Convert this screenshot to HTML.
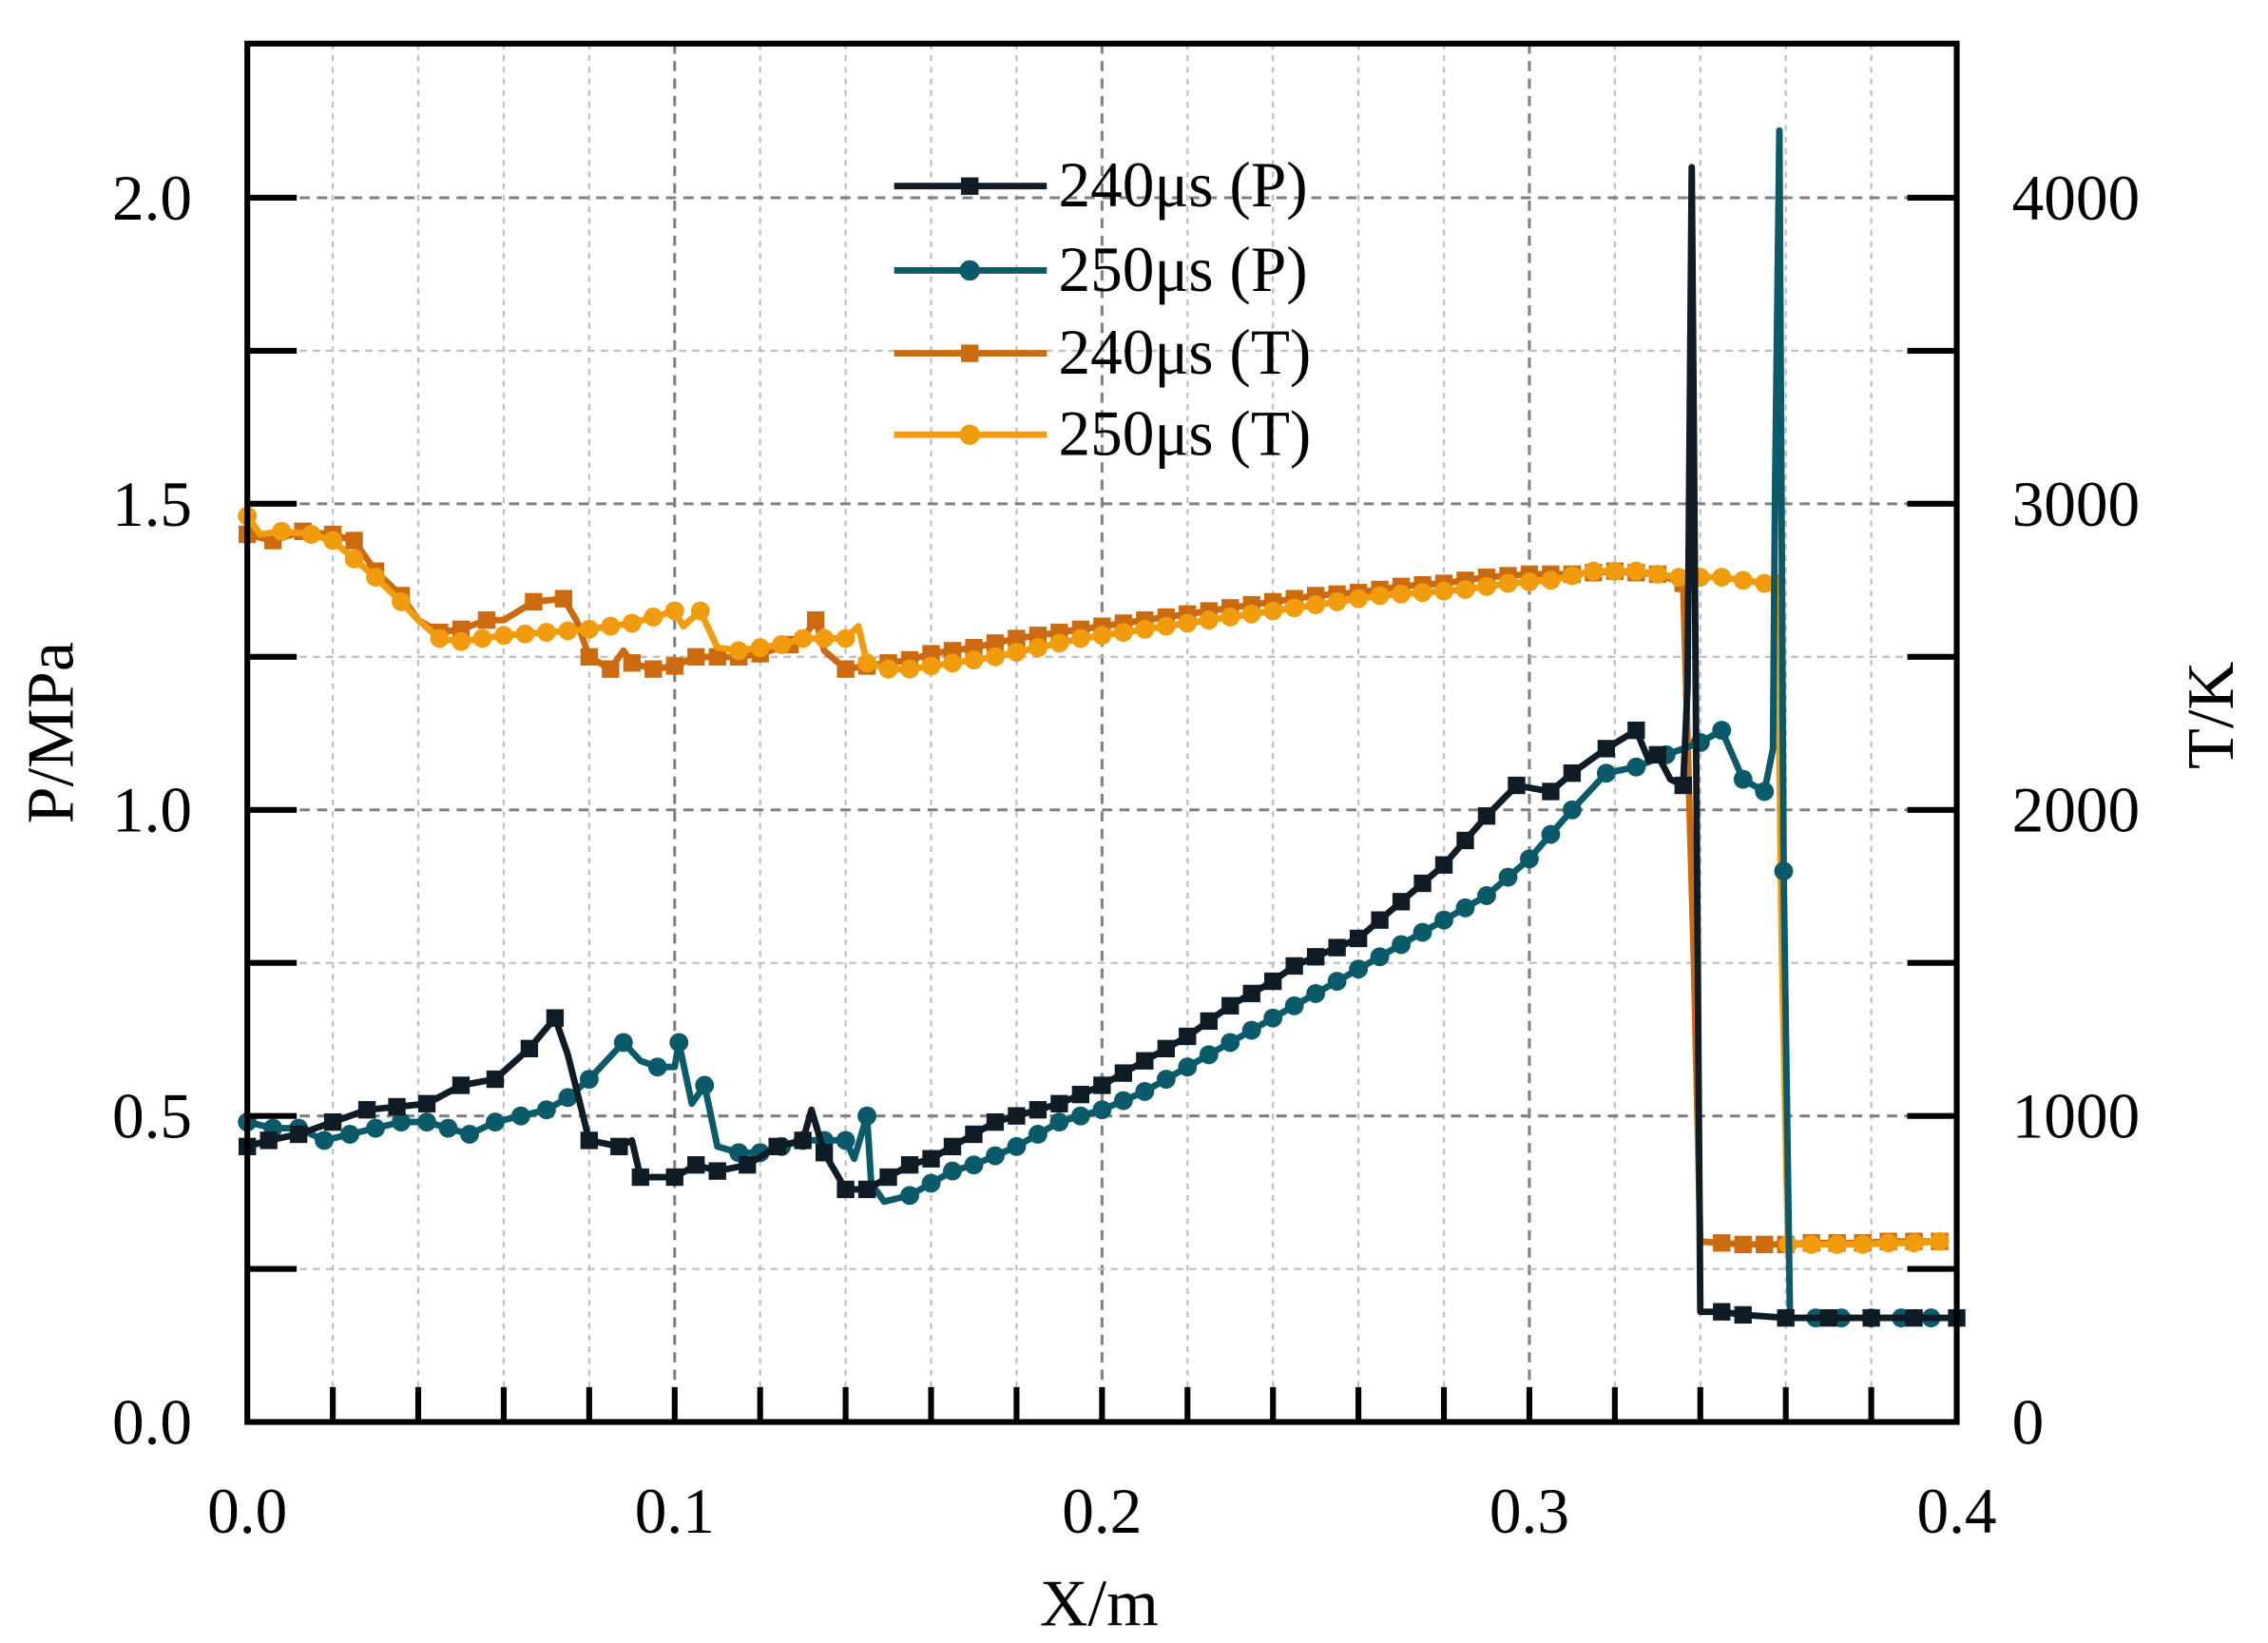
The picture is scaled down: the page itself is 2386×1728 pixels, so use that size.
<!DOCTYPE html>
<html><head><meta charset="utf-8"><style>
html,body{margin:0;padding:0;background:#fff;}
svg{display:block;}
text{font-family:"Liberation Serif",serif;fill:#000;}
</style></head><body>
<svg id="chart" width="2386" height="1728" viewBox="0 0 1560 1130" xmlns="http://www.w3.org/2000/svg">
<g id="grid"></g>
<g id="series"></g>
<g id="axes"></g>
<g id="legend"></g>
</svg>
<script>
const xTicks=[0,0.1,0.2,0.3,0.4];
const xTickLabels=["0.0","0.1","0.2","0.3","0.4"];
const pTicks=[0,0.5,1.0,1.5,2.0];
const pTickLabels=["0.0","0.5","1.0","1.5","2.0"];
const tTicks=[0,1000,2000,3000,4000];
const tTickLabels=["0","1000","2000","3000","4000"];

const p240X=[0,0.005,0.012,0.02,0.028,0.035,0.042,0.05,0.058,0.066,0.072,0.075,0.08,0.087,0.09,0.092,0.1,0.105,0.11,0.117,0.124,0.13,0.132,0.135,0.14,0.145,0.15,0.155,0.16,0.165,0.17,0.175,0.18,0.185,0.19,0.195,0.2,0.205,0.21,0.215,0.22,0.225,0.23,0.235,0.24,0.245,0.25,0.255,0.26,0.265,0.27,0.275,0.28,0.285,0.29,0.297,0.305,0.31,0.318,0.325,0.328,0.33,0.333,0.336,0.337,0.338,0.3385,0.340,0.345,0.35,0.36,0.37,0.38,0.39,0.4];
const p240Y=[0.45,0.46,0.47,0.49,0.51,0.515,0.52,0.55,0.56,0.61,0.66,0.60,0.46,0.45,0.46,0.40,0.40,0.42,0.41,0.42,0.45,0.46,0.51,0.44,0.38,0.38,0.40,0.42,0.43,0.45,0.47,0.49,0.50,0.51,0.52,0.535,0.55,0.57,0.59,0.61,0.63,0.655,0.68,0.70,0.72,0.745,0.76,0.775,0.79,0.82,0.85,0.88,0.91,0.95,0.99,1.04,1.03,1.06,1.10,1.13,1.08,1.09,1.05,1.04,1.20,2.05,1.6,0.18,0.18,0.175,0.17,0.17,0.17,0.17,0.17];

const p250X=[0,0.006,0.012,0.018,0.024,0.03,0.036,0.042,0.047,0.052,0.058,0.064,0.07,0.075,0.08,0.084,0.088,0.092,0.096,0.1,0.101,0.104,0.107,0.11,0.115,0.12,0.125,0.13,0.135,0.14,0.142,0.145,0.146,0.149,0.155,0.16,0.165,0.17,0.175,0.18,0.185,0.19,0.195,0.2,0.205,0.21,0.215,0.22,0.225,0.23,0.235,0.24,0.245,0.25,0.255,0.26,0.265,0.27,0.275,0.28,0.285,0.29,0.295,0.3,0.305,0.31,0.318,0.325,0.332,0.34,0.345,0.35,0.355,0.357,0.3575,0.3585,0.3595,0.361,0.367,0.373,0.38,0.387,0.394];
const p250Y=[0.49,0.48,0.48,0.46,0.47,0.48,0.49,0.49,0.48,0.47,0.49,0.50,0.51,0.53,0.56,0.59,0.62,0.59,0.58,0.58,0.62,0.52,0.55,0.45,0.44,0.44,0.45,0.46,0.46,0.46,0.43,0.50,0.39,0.36,0.37,0.39,0.41,0.42,0.435,0.45,0.47,0.49,0.50,0.51,0.525,0.54,0.56,0.58,0.60,0.62,0.64,0.66,0.68,0.70,0.72,0.74,0.76,0.78,0.80,0.82,0.84,0.86,0.89,0.92,0.96,1.00,1.06,1.07,1.09,1.11,1.13,1.05,1.03,1.10,1.52,2.11,0.9,0.17,0.17,0.17,0.17,0.17,0.17];

const t240X=[0,0.006,0.013,0.02,0.025,0.03,0.036,0.04,0.045,0.05,0.056,0.06,0.067,0.074,0.077,0.08,0.085,0.088,0.09,0.095,0.1,0.105,0.11,0.115,0.12,0.127,0.13,0.133,0.135,0.14,0.145,0.15,0.155,0.16,0.165,0.17,0.175,0.18,0.185,0.19,0.195,0.2,0.205,0.21,0.215,0.22,0.225,0.23,0.235,0.24,0.245,0.25,0.255,0.26,0.265,0.27,0.275,0.28,0.285,0.29,0.295,0.3,0.305,0.31,0.315,0.32,0.325,0.33,0.336,0.3385,0.340,0.345,0.35,0.355,0.36,0.366,0.372,0.378,0.384,0.39,0.396];
const t240Y=[2900,2880,2910,2900,2880,2780,2700,2620,2580,2590,2620,2620,2680,2690,2620,2500,2460,2520,2480,2460,2470,2500,2500,2500,2510,2540,2560,2620,2520,2460,2470,2480,2490,2510,2520,2530,2545,2560,2570,2580,2590,2600,2610,2620,2630,2640,2650,2660,2670,2680,2690,2700,2705,2710,2720,2730,2735,2740,2750,2760,2765,2770,2770,2770,2775,2780,2775,2770,2740,1500,590,585,580,580,580,585,585,585,590,590,590];

const t250X=[0,0.003,0.008,0.015,0.02,0.025,0.03,0.036,0.04,0.045,0.05,0.055,0.06,0.065,0.07,0.075,0.08,0.085,0.09,0.095,0.1,0.102,0.106,0.11,0.115,0.12,0.125,0.13,0.135,0.14,0.143,0.145,0.15,0.155,0.16,0.165,0.17,0.175,0.18,0.185,0.19,0.195,0.2,0.205,0.21,0.215,0.22,0.225,0.23,0.235,0.24,0.245,0.25,0.255,0.26,0.265,0.27,0.275,0.28,0.285,0.29,0.295,0.3,0.305,0.31,0.315,0.32,0.325,0.33,0.335,0.34,0.345,0.35,0.355,0.357,0.358,0.359,0.3605,0.366,0.372,0.378,0.384,0.39,0.396];
const t250Y=[2960,2900,2910,2900,2880,2820,2760,2680,2620,2560,2550,2560,2570,2575,2580,2585,2590,2600,2610,2630,2650,2600,2650,2530,2520,2530,2540,2560,2560,2560,2600,2480,2460,2460,2470,2480,2490,2500,2515,2530,2545,2560,2570,2580,2590,2600,2610,2620,2630,2640,2650,2660,2670,2680,2690,2700,2705,2710,2715,2720,2730,2740,2745,2750,2765,2780,2780,2780,2770,2760,2760,2760,2750,2740,2720,2760,1600,580,580,580,580,585,585,590];

const L=170,R=1346,T=30,B=978;
function sx(v){return L+(v/0.4)*(R-L);}
function sp(v){return B-(v/2.0)*(B-136);}
function st(v){return B-(v/4000)*(B-136);}
const NS="http://www.w3.org/2000/svg";
function mk(tag,attrs,parent){const e=document.createElementNS(NS,tag);for(const k in attrs)e.setAttribute(k,attrs[k]);parent.appendChild(e);return e;}
const grid=document.getElementById('grid'),axes=document.getElementById('axes'),series=document.getElementById('series'),legend=document.getElementById('legend');

for(let i=1;i<20;i++){const v=i*0.02;const major=(i%5===0);
 const g=mk('line',{x1:sx(v),x2:sx(v),y1:T,y2:B,stroke:major?'#808080':'#c0c0c0','stroke-width':major?2:1.5,'stroke-dasharray':major?'7,5':'4,4'},grid);
 
 }
for(let i=1;i<9;i++){const v=i*0.25;const major=(i%2===0);
 const g=mk('line',{x1:L,x2:R,y1:sp(v),y2:sp(v),stroke:major?'#808080':'#c0c0c0','stroke-width':major?2:1.5,'stroke-dasharray':major?'7,5':'5,4'},grid);
 
 }

function drawSeries(xs,ys,yf,color,marker,name){
 const g=mk('g',{},series);
 
 
 const pts=xs.map((x,i)=>sx(x).toFixed(1)+','+yf(ys[i]).toFixed(1)).join(' ');
 const pl=mk('polyline',{points:pts,fill:'none',stroke:color,'stroke-width':4.5,'stroke-linejoin':'round'},g);
 
 
 let lastX=-1e9;
 xs.forEach((x,i)=>{const px=sx(x),py=yf(ys[i]);
  if(px-lastX<12)return; lastX=px;
  let m;
  if(marker==='s')m=mk('rect',{x:px-6,y:py-6,width:12,height:12,fill:color},g);
  else m=mk('circle',{cx:px,cy:py,r:6.5,fill:color},g);
  
  
 });
}
drawSeries(t240X,t240Y,st,'#cc6a10','s','series-240us-t');
drawSeries(t250X,t250Y,st,'#f09c0c','c','series-250us-t');
drawSeries(p250X,p250Y,sp,'#0a5a6a','c','series-250us-p');
drawSeries(p240X,p240Y,sp,'#0f1c26','s','series-240us-p');

const fr=mk('rect',{x:L,y:T,width:R-L,height:B-T,fill:'none',stroke:'#000','stroke-width':4},axes);


for(let i=1;i<20;i++){const t=mk('line',{x1:sx(i*0.02),x2:sx(i*0.02),y1:B,y2:B-24,stroke:'#000','stroke-width':4},axes);
 
 }
for(let i=1;i<9;i++){const y=sp(i*0.25);
 const a=mk('line',{x1:L,x2:L+34,y1:y,y2:y,stroke:'#000','stroke-width':4},axes);
 
 
 const b=mk('line',{x1:R-34,x2:R,y1:y,y2:y,stroke:'#000','stroke-width':4},axes);
 
 }
xTicks.forEach((v,i)=>{const t=mk('text',{x:sx(v),y:1054,'text-anchor':'middle','font-size':44},axes);t.textContent=xTickLabels[i];
 
 });
pTicks.forEach((v,i)=>{const t=mk('text',{x:132,y:sp(v)+15,'text-anchor':'end','font-size':44},axes);t.textContent=pTickLabels[i];
 
 });
tTicks.forEach((v,i)=>{const t=mk('text',{x:1384,y:st(v)+15,'text-anchor':'start','font-size':44},axes);t.textContent=tTickLabels[i];
 
 });
let t=mk('text',{x:756,y:1118,'text-anchor':'middle','font-size':46},axes);t.textContent='X/m';


t=mk('text',{x:0,y:0,'text-anchor':'middle','font-size':46,transform:'translate(50,504) rotate(-90)'},axes);t.textContent='P/MPa';


t=mk('text',{x:0,y:0,'text-anchor':'middle','font-size':46,transform:'translate(1536,492) rotate(-90)'},axes);t.textContent='T/K';



const legLabels=['240μs (P)','250μs (P)','240μs (T)','250μs (T)'];
const legColors=['#0f1c26','#0a5a6a','#cc6a10','#f09c0c'];
const legMarkers=['s','c','s','c'];
const legY=[128,186,243,299];
legLabels.forEach((lab,i)=>{const g=mk('g',{},legend);
 
 
 mk('line',{x1:615,x2:720,y1:legY[i],y2:legY[i],stroke:legColors[i],'stroke-width':4.5},g);
 if(legMarkers[i]==='s')mk('rect',{x:661,y:legY[i]-6,width:12,height:12,fill:legColors[i]},g);
 else mk('circle',{cx:667,cy:legY[i],r:7,fill:legColors[i]},g);
 const tx=mk('text',{x:728,y:legY[i]+14,'font-size':44},g);tx.textContent=lab;});
</script>
</body></html>
